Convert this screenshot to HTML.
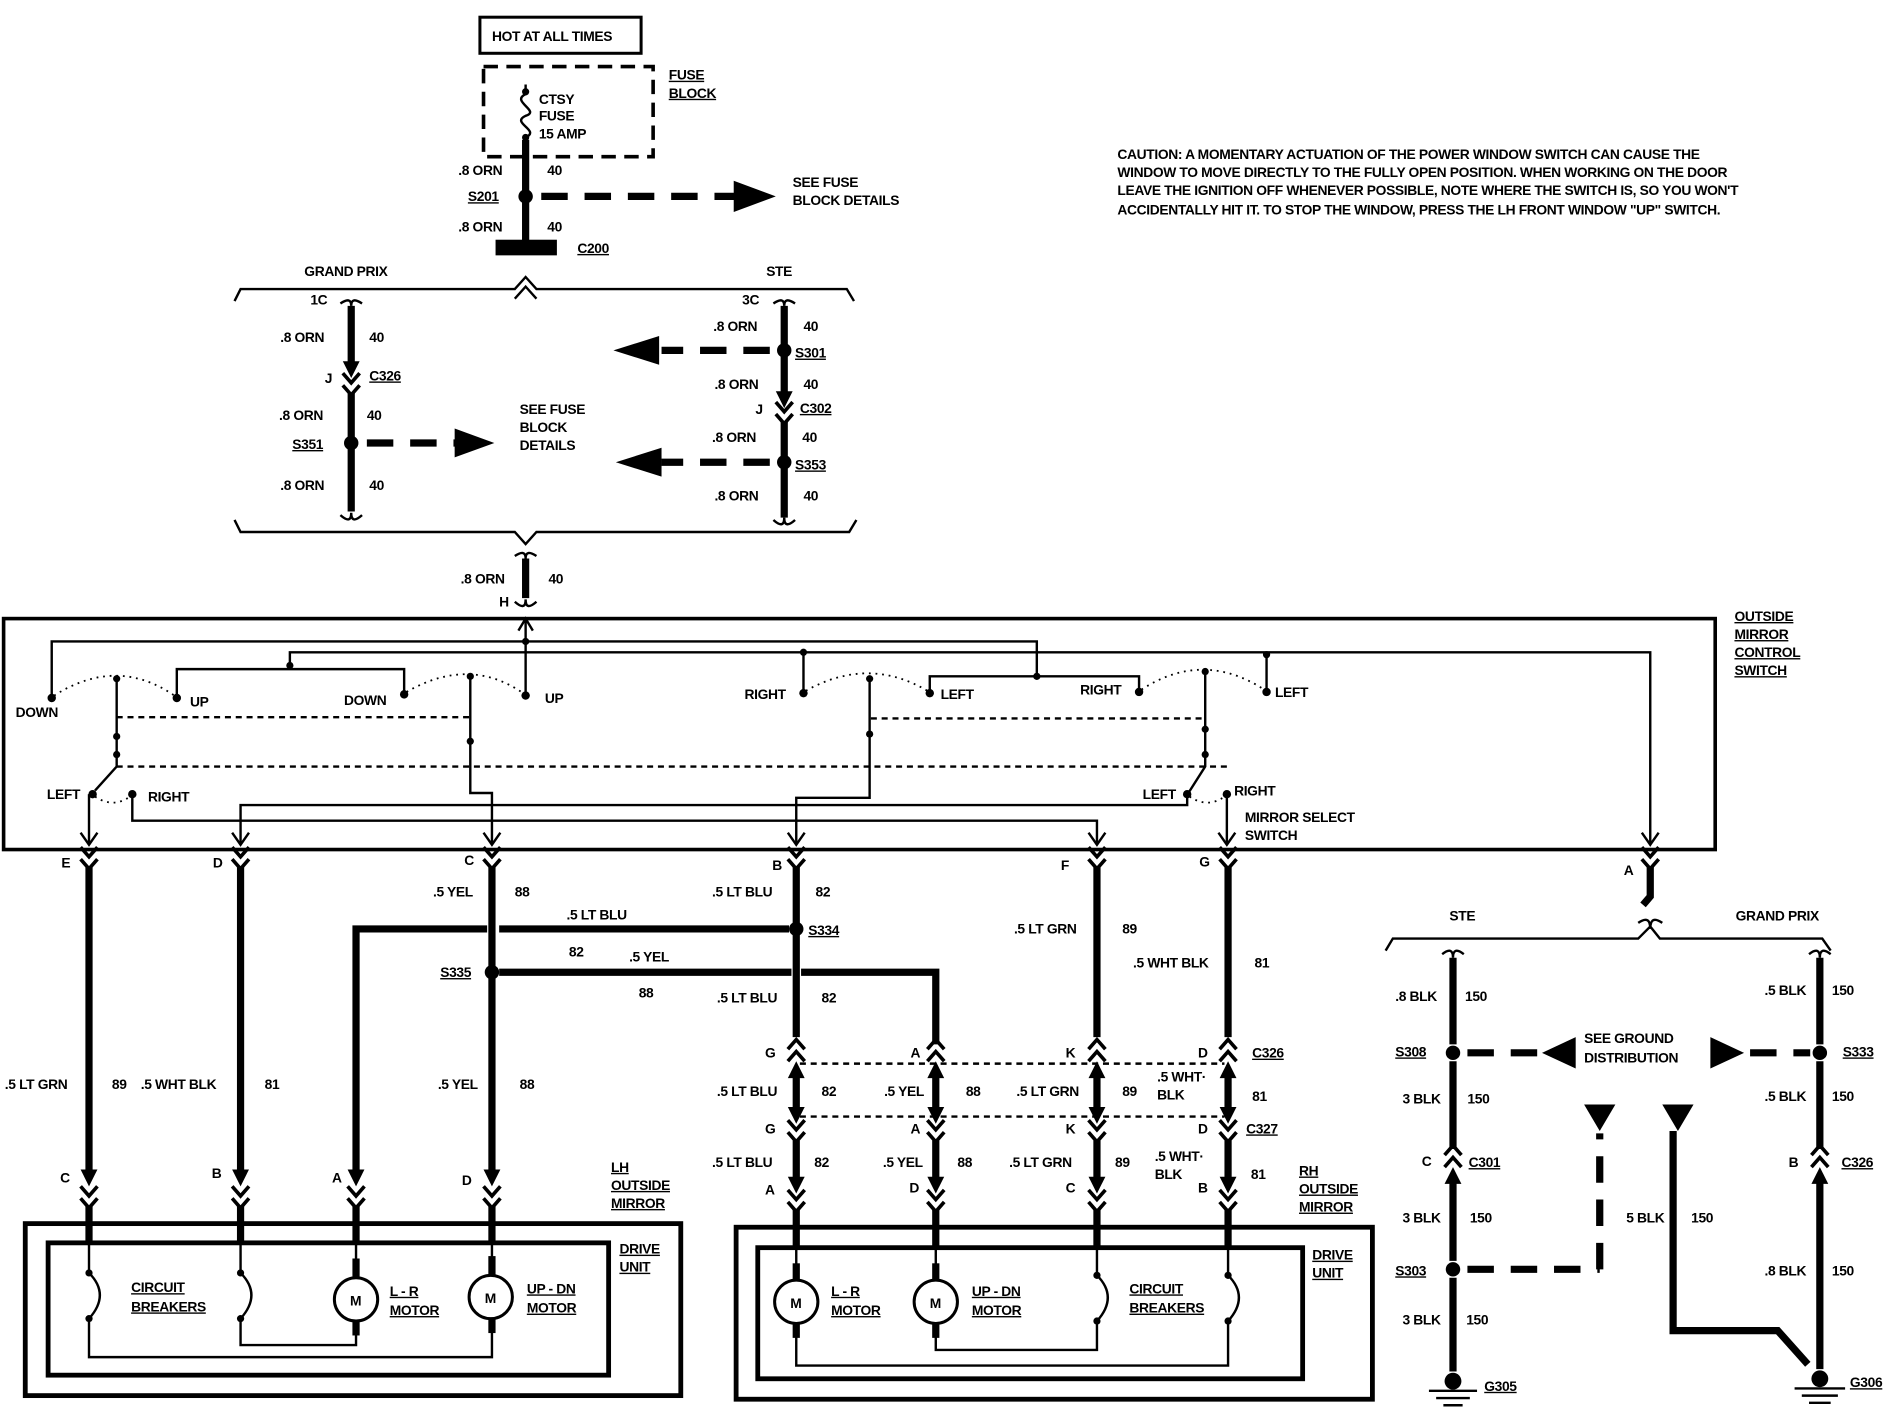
<!DOCTYPE html>
<html><head><meta charset="utf-8"><style>
html,body{margin:0;padding:0;background:#fff;}
svg{display:block;}
text{font-family:"Liberation Sans",sans-serif;font-weight:bold;font-size:11.5px;fill:#000;letter-spacing:-0.3px;}
.u{text-decoration:underline;}
.w{stroke:#000;stroke-width:6;fill:none;}
.t{stroke:#000;stroke-width:2;fill:none;}
.d{stroke:#000;stroke-width:6;fill:none;stroke-dasharray:22,14;}
.dd{stroke:#000;stroke-width:2;fill:none;stroke-dasharray:5,4;}
.dot{stroke:#000;stroke-width:1.5;fill:none;stroke-dasharray:1.5,4;}
</style></head><body>
<svg width="1886" height="1408" viewBox="0 0 1568 1170" xmlns="http://www.w3.org/2000/svg">
<defs>
<g id="chv"><path d="M-7,-8 L0,0 L7,-8 M-7,2 L0,10 L7,2" stroke="#000" stroke-width="3" fill="none"/></g>
<g id="chu"><path d="M-7,8 L0,0 L7,8 M-7,-2 L0,-10 L7,-2" stroke="#000" stroke-width="3" fill="none"/></g>
<g id="ad"><path d="M-7,-10 L0,4 L7,-10 Z" fill="#000"/></g>
<g id="au"><path d="M-7,10 L0,-4 L7,10 Z" fill="#000"/></g>
</defs>

<!-- top -->
<rect x="399" y="14" width="134" height="30" fill="none" stroke="#000" stroke-width="2.5"/>
<text x="409" y="34">HOT AT ALL TIMES</text>
<rect x="402" y="55" width="141" height="75" fill="none" stroke="#000" stroke-width="3" stroke-dasharray="12,7"/>
<text x="556" y="66" class="u">FUSE</text><text x="556" y="81" class="u">BLOCK</text>
<path d="M437,70 L437,78 C424,84 450,92 437,96 C424,102 450,108 437,114" class="t" stroke-width="2.5"/>
<circle cx="437" cy="76" r="3"/><circle cx="437" cy="114" r="3"/>
<text x="448" y="86">CTSY</text><text x="448" y="100">FUSE</text><text x="448" y="115">15 AMP</text>
<line x1="437" y1="116" x2="437" y2="202" class="w"/>
<text x="381" y="145">.8 ORN</text><text x="455" y="145">40</text>
<text x="389" y="167" class="u">S201</text>
<circle cx="437" cy="163" r="6"/>
<line x1="450" y1="163" x2="615" y2="163" class="d"/>
<path d="M610,150 L645,163 L610,176 Z"/>
<text x="659" y="155">SEE FUSE</text><text x="659" y="170">BLOCK DETAILS</text>
<text x="381" y="192">.8 ORN</text><text x="455" y="192">40</text>
<rect x="412" y="199" width="51" height="13"/>
<text x="480" y="210" class="u">C200</text>

<!-- upper bracket -->
<path d="M195,250 L200,240 L428,240 L437,230 L446,240 L704,240 L710,250" class="t" stroke-width="3"/>
<text x="253" y="229">GRAND PRIX</text><text x="637" y="229">STE</text>
<path d="M428,248 L437,238 L446,248" class="t" stroke-width="3"/>

<!-- left column -->
<path d="M283,252 Q292,246 292,254 Q292,246 301,252" class="t" stroke-width="3"/>
<line x1="292" y1="254" x2="292" y2="305" class="w"/>
<use href="#ad" x="292" y="310"/>
<use href="#chv" x="292" y="318"/>
<line x1="292" y1="326" x2="292" y2="425" class="w"/>
<path d="M283,428 Q292,436 292,426 Q292,436 301,428" class="t" stroke-width="3"/>
<text x="258" y="253">1C</text>
<text x="233" y="284">.8 ORN</text><text x="307" y="284">40</text>
<text x="270" y="318">J</text><text x="307" y="316" class="u">C326</text>
<text x="232" y="349">.8 ORN</text><text x="305" y="349">40</text>
<circle cx="292" cy="368" r="6"/>
<text x="243" y="373" class="u">S351</text>
<line x1="305" y1="368" x2="380" y2="368" class="d"/>
<path d="M378,356 L411,368 L378,380 Z"/>
<text x="432" y="344">SEE FUSE</text><text x="432" y="359">BLOCK</text><text x="432" y="374">DETAILS</text>
<text x="233" y="407">.8 ORN</text><text x="307" y="407">40</text>

<!-- right column -->
<path d="M643,252 Q652,246 652,254 Q652,246 661,252" class="t" stroke-width="3"/>
<line x1="652" y1="254" x2="652" y2="330" class="w"/>
<use href="#ad" x="652" y="335"/>
<use href="#chv" x="652" y="342"/>
<line x1="652" y1="350" x2="652" y2="430" class="w"/>
<path d="M643,432 Q652,440 652,430 Q652,440 661,432" class="t" stroke-width="3"/>
<text x="617" y="253">3C</text>
<text x="593" y="275">.8 ORN</text><text x="668" y="275">40</text>
<circle cx="652" cy="291" r="6"/>
<text x="661" y="297" class="u">S301</text>
<line x1="640" y1="291" x2="550" y2="291" class="d"/>
<path d="M548,279 L510,291 L548,303 Z"/>
<text x="594" y="323">.8 ORN</text><text x="668" y="323">40</text>
<text x="628" y="344">J</text><text x="665" y="343" class="u">C302</text>
<text x="592" y="367">.8 ORN</text><text x="667" y="367">40</text>
<circle cx="652" cy="384" r="6"/>
<text x="661" y="390" class="u">S353</text>
<line x1="640" y1="384" x2="550" y2="384" class="d"/>
<path d="M550,372 L512,384 L550,396 Z"/>
<text x="594" y="416">.8 ORN</text><text x="668" y="416">40</text>

<!-- lower bracket -->
<path d="M195,432 L200,442 L428,442 L437,452 L446,442 L706,442 L712,432" class="t" stroke-width="3"/>
<path d="M428,462 Q437,456 437,464 Q437,456 446,462" class="t" stroke-width="3"/>
<line x1="437" y1="464" x2="437" y2="497" class="w"/>
<path d="M428,500 Q437,508 437,498 Q437,508 446,500" class="t" stroke-width="3"/>
<text x="383" y="485">.8 ORN</text><text x="456" y="485">40</text>
<text x="415" y="504">H</text>

<!-- caution -->
<text x="929" y="132">CAUTION: A MOMENTARY ACTUATION OF THE POWER WINDOW SWITCH CAN CAUSE THE</text>
<text x="929" y="147">WINDOW TO MOVE DIRECTLY TO THE  FULLY OPEN POSITION. WHEN WORKING ON THE DOOR</text>
<text x="929" y="162">LEAVE THE IGNITION OFF WHENEVER POSSIBLE, NOTE WHERE THE SWITCH IS, SO YOU WON'T</text>
<text x="929" y="178">ACCIDENTALLY HIT IT. TO STOP THE WINDOW, PRESS THE LH FRONT WINDOW "UP" SWITCH.</text>

<!-- switch box -->
<rect x="3" y="514" width="1423" height="192" fill="none" stroke="#000" stroke-width="3"/>
<text x="1442" y="516" class="u">OUTSIDE</text><text x="1442" y="531" class="u">MIRROR</text><text x="1442" y="546" class="u">CONTROL</text><text x="1442" y="561" class="u">SWITCH</text>
<path d="M437,533 L437,516 M431,524 L437,514 L443,524" class="t"/>
<path d="M43,580 L43,533 L862,533 L862,562" class="t" stroke-width="2.5"/>
<circle cx="437" cy="533" r="3"/><circle cx="437" cy="578" r="3"/>
<line x1="437" y1="533" x2="437" y2="578" class="t"/>
<path d="M241,556 L241,542 L1372,542 L1372,702" class="t" stroke-width="2.5"/>
<circle cx="241" cy="553" r="3"/><circle cx="668" cy="542" r="3"/><circle cx="1053" cy="544" r="3"/><circle cx="862" cy="562" r="3"/>
<path d="M147,580 L147,556 L336,556 L336,577" class="t" stroke-width="2.5"/>
<line x1="668" y1="542" x2="668" y2="576" class="t"/>
<path d="M773,576 L773,562 L947,562 L947,575" class="t" stroke-width="2.5"/>
<line x1="1053" y1="544" x2="1053" y2="575" class="t"/>
<circle cx="43" cy="580" r="3.5"/><circle cx="147" cy="580" r="3.5"/><circle cx="336" cy="577" r="3.5"/><circle cx="437" cy="578" r="3.5"/>
<circle cx="668" cy="576" r="3.5"/><circle cx="773" cy="576" r="3.5"/><circle cx="947" cy="575" r="3.5"/><circle cx="1053" cy="575" r="3.5"/>
<path d="M45,578 Q97,545 145,578" class="dot"/><path d="M338,575 Q390,545 435,576" class="dot"/>
<path d="M670,574 Q722,545 771,574" class="dot"/><path d="M949,573 Q1000,540 1051,573" class="dot"/>
<text x="13" y="596">DOWN</text><text x="158" y="587">UP</text><text x="286" y="586">DOWN</text><text x="453" y="584">UP</text>
<text x="619" y="581">RIGHT</text><text x="782" y="581">LEFT</text><text x="898" y="577">RIGHT</text><text x="1060" y="579">LEFT</text>
<!-- poles -->
<path d="M97,562 L97,637 L79,657" class="t" stroke-width="2.5"/><circle cx="97" cy="564" r="3"/><circle cx="97" cy="612" r="3"/><circle cx="97" cy="627" r="3"/>
<path d="M391,560 L391,659 L409,659 L409,702" class="t" stroke-width="2.5"/><circle cx="391" cy="562" r="3"/><circle cx="391" cy="616" r="3"/>
<path d="M723,562 L723,663 L662,663 L662,702" class="t" stroke-width="2.5"/><circle cx="723" cy="564" r="3"/><circle cx="723" cy="610" r="3"/>
<path d="M1002,556 L1002,637 L988,659" class="t" stroke-width="2.5"/><circle cx="1002" cy="558" r="3"/><circle cx="1002" cy="606" r="3"/><circle cx="1002" cy="627" r="3"/>
<line x1="97" y1="596" x2="391" y2="596" class="dd"/>
<line x1="724" y1="597" x2="1002" y2="597" class="dd"/>
<line x1="97" y1="637" x2="1021" y2="637" class="dd"/>
<circle cx="77" cy="660" r="3.5"/><circle cx="110" cy="660" r="3.5"/><circle cx="987" cy="660" r="3.5"/><circle cx="1020" cy="660" r="3.5"/>
<path d="M79,662 Q94,672 108,662" class="dot"/><path d="M989,662 Q1004,672 1018,662" class="dot"/>
<text x="39" y="664">LEFT</text><text x="123" y="666">RIGHT</text><text x="950" y="664">LEFT</text><text x="1026" y="661">RIGHT</text>
<text x="1035" y="683">MIRROR SELECT</text><text x="1035" y="698">SWITCH</text>
<path d="M74,660 L74,702" class="t"/>
<path d="M110,660 L110,682 L912,682 L912,702" class="t"/>
<path d="M987,660 L987,669 L200,669 L200,702" class="t"/>
<path d="M1020,662 L1020,702" class="t"/>
<g class="t">
<path d="M67,692 L74,702 L81,692"/><path d="M193,692 L200,702 L207,692"/><path d="M402,692 L409,702 L416,692"/><path d="M655,692 L662,702 L669,692"/><path d="M905,692 L912,702 L919,692"/><path d="M1013,692 L1020,702 L1027,692"/><path d="M1365,692 L1372,702 L1379,692"/>
</g>

<!-- lower wires -->
<g>
<text x="51" y="721">E</text><text x="177" y="721">D</text><text x="386" y="719">C</text><text x="642" y="723">B</text><text x="882" y="723">F</text><text x="997" y="720">G</text><text x="1350" y="727">A</text>
</g>
<use href="#chv" x="74" y="712"/><use href="#chv" x="200" y="712"/><use href="#chv" x="409" y="712"/><use href="#chv" x="662" y="712"/><use href="#chv" x="912" y="712"/><use href="#chv" x="1021" y="712"/><use href="#chv" x="1372" y="712"/>
<line x1="74" y1="720" x2="74" y2="975" class="w"/><use href="#ad" x="74" y="982"/>
<line x1="200" y1="720" x2="200" y2="975" class="w"/><use href="#ad" x="200" y="982"/>
<line x1="409" y1="720" x2="409" y2="975" class="w"/><use href="#ad" x="409" y="982"/>
<path d="M296,975 L296,772 L405,772 M415,772 L656,772" class="w" stroke-width="7"/><use href="#ad" x="296" y="982"/>
<path d="M415,808 L658,808 M666,808 L778,808 L778,868" class="w" stroke-width="7"/>
<circle cx="409" cy="808" r="6"/><circle cx="662" cy="772" r="6"/>
<line x1="662" y1="720" x2="662" y2="862" class="w"/>
<line x1="912" y1="720" x2="912" y2="862" class="w"/>
<line x1="1021" y1="720" x2="1021" y2="862" class="w"/>
<path d="M1372,720 L1372,745 L1366,752" class="w"/>
<text x="360" y="745">.5 YEL</text><text x="428" y="745">88</text>
<text x="592" y="745">.5 LT BLU</text><text x="678" y="745">82</text>
<text x="471" y="764">.5 LT BLU</text>
<text x="672" y="777" class="u">S334</text>
<text x="473" y="795">82</text><text x="523" y="799">.5 YEL</text>
<text x="366" y="812" class="u">S335</text>
<text x="531" y="829">88</text>
<text x="596" y="833">.5 LT BLU</text><text x="683" y="833">82</text>
<text x="843" y="776">.5 LT GRN</text><text x="933" y="776">89</text>
<text x="942" y="804">.5 WHT BLK</text><text x="1043" y="804">81</text>
<text x="4" y="905">.5 LT GRN</text><text x="93" y="905">89</text><text x="117" y="905">.5 WHT BLK</text><text x="220" y="905">81</text>
<text x="364" y="905">.5 YEL</text><text x="432" y="905">88</text>
<text x="50" y="983">C</text><text x="176" y="979">B</text><text x="276" y="983">A</text><text x="384" y="985">D</text>
<text x="508" y="974" class="u">LH</text><text x="508" y="989" class="u">OUTSIDE</text><text x="508" y="1004" class="u">MIRROR</text>
<use href="#chv" x="74" y="994"/><use href="#chv" x="200" y="994"/><use href="#chv" x="296" y="994"/><use href="#chv" x="409" y="994"/>
<g class="w"><line x1="74" y1="1002" x2="74" y2="1034"/><line x1="200" y1="1002" x2="200" y2="1034"/><line x1="296" y1="1002" x2="296" y2="1034"/><line x1="409" y1="1002" x2="409" y2="1034"/></g>

<!-- right group connectors -->
<g>
<use href="#chu" x="662" y="874"/><use href="#chu" x="778" y="874"/><use href="#chu" x="912" y="874"/><use href="#chu" x="1021" y="874"/>
<use href="#au" x="662" y="886"/><use href="#au" x="778" y="886"/><use href="#au" x="912" y="886"/><use href="#au" x="1021" y="886"/>
<line x1="662" y1="890" x2="662" y2="925" class="w"/><line x1="778" y1="890" x2="778" y2="925" class="w"/><line x1="912" y1="890" x2="912" y2="925" class="w"/><line x1="1021" y1="890" x2="1021" y2="925" class="w"/>
<use href="#ad" x="662" y="930"/><use href="#ad" x="778" y="930"/><use href="#ad" x="912" y="930"/><use href="#ad" x="1021" y="930"/>
<use href="#chv" x="662" y="939"/><use href="#chv" x="778" y="939"/><use href="#chv" x="912" y="939"/><use href="#chv" x="1021" y="939"/>
<line x1="662" y1="948" x2="662" y2="983" class="w"/><line x1="778" y1="948" x2="778" y2="983" class="w"/><line x1="912" y1="948" x2="912" y2="983" class="w"/><line x1="1021" y1="948" x2="1021" y2="983" class="w"/>
<use href="#ad" x="662" y="988"/><use href="#ad" x="778" y="988"/><use href="#ad" x="912" y="988"/><use href="#ad" x="1021" y="988"/>
<use href="#chv" x="662" y="997"/><use href="#chv" x="778" y="997"/><use href="#chv" x="912" y="997"/><use href="#chv" x="1021" y="997"/>
<g class="w"><line x1="662" y1="1005" x2="662" y2="1038"/><line x1="778" y1="1005" x2="778" y2="1038"/><line x1="912" y1="1005" x2="912" y2="1038"/><line x1="1021" y1="1005" x2="1021" y2="1038"/></g>
</g>
<line x1="665" y1="884" x2="1018" y2="884" class="dd"/>
<line x1="665" y1="928" x2="1018" y2="928" class="dd"/>
<text x="636" y="879">G</text><text x="757" y="879">A</text><text x="886" y="879">K</text><text x="996" y="879">D</text><text x="1041" y="879" class="u">C326</text>
<text x="596" y="911">.5 LT BLU</text><text x="683" y="911">82</text><text x="735" y="911">.5 YEL</text><text x="803" y="911">88</text>
<text x="845" y="911">.5 LT GRN</text><text x="933" y="911">89</text><text x="962" y="899">.5 WHT·</text><text x="962" y="914">BLK</text><text x="1041" y="915">81</text>
<text x="636" y="942">G</text><text x="757" y="942">A</text><text x="886" y="942">K</text><text x="996" y="942">D</text><text x="1036" y="942" class="u">C327</text>
<text x="592" y="970">.5 LT BLU</text><text x="677" y="970">82</text><text x="734" y="970">.5 YEL</text><text x="796" y="970">88</text>
<text x="839" y="970">.5 LT GRN</text><text x="927" y="970">89</text><text x="960" y="965">.5 WHT·</text><text x="960" y="980">BLK</text><text x="1040" y="980">81</text>
<text x="636" y="993">A</text><text x="756" y="991">D</text><text x="886" y="991">C</text><text x="996" y="991">B</text>
<text x="1080" y="977" class="u">RH</text><text x="1080" y="992" class="u">OUTSIDE</text><text x="1080" y="1007" class="u">MIRROR</text>

<!-- LH drive unit -->
<rect x="21" y="1017" width="545" height="143" fill="none" stroke="#000" stroke-width="4"/>
<rect x="40" y="1033" width="466" height="110" fill="none" stroke="#000" stroke-width="4"/>
<text x="515" y="1042" class="u">DRIVE</text><text x="515" y="1057" class="u">UNIT</text>
<path d="M74,1034 L74,1058 Q92,1076 74,1096 L74,1128 L409,1128 L409,1098" class="t"/>
<path d="M200,1034 L200,1058 Q218,1076 200,1096 L200,1118 L296,1118 L296,1098" class="t"/>
<circle cx="74" cy="1058" r="3"/><circle cx="74" cy="1096" r="3"/><circle cx="200" cy="1058" r="3"/><circle cx="200" cy="1096" r="3"/>
<line x1="296" y1="1034" x2="296" y2="1062" class="t"/><line x1="409" y1="1034" x2="409" y2="1060" class="t"/>
<rect x="293" y="1046" width="6" height="16"/><rect x="293" y="1096" width="6" height="14"/>
<rect x="406" y="1044" width="6" height="16"/><rect x="406" y="1094" width="6" height="14"/>
<circle cx="296" cy="1080" r="18" fill="#fff" stroke="#000" stroke-width="2.5"/>
<circle cx="408" cy="1078" r="18" fill="#fff" stroke="#000" stroke-width="2.5"/>
<text x="291" y="1085">M</text><text x="403" y="1083">M</text>
<text x="109" y="1074" class="u">CIRCUIT</text><text x="109" y="1090" class="u">BREAKERS</text>
<text x="324" y="1077" class="u">L - R</text><text x="324" y="1093" class="u">MOTOR</text>
<text x="438" y="1075" class="u">UP - DN</text><text x="438" y="1091" class="u">MOTOR</text>

<!-- RH drive unit -->
<rect x="612" y="1020" width="529" height="143" fill="none" stroke="#000" stroke-width="4"/>
<rect x="630" y="1037" width="453" height="109" fill="none" stroke="#000" stroke-width="4"/>
<text x="1091" y="1047" class="u">DRIVE</text><text x="1091" y="1062" class="u">UNIT</text>
<path d="M912,1038 L912,1060 Q930,1078 912,1098 L912,1122 L778,1122 L778,1100" class="t"/>
<path d="M1021,1038 L1021,1060 Q1039,1078 1021,1098 L1021,1135 L662,1135 L662,1100" class="t"/>
<circle cx="912" cy="1060" r="3"/><circle cx="912" cy="1098" r="3"/><circle cx="1021" cy="1060" r="3"/><circle cx="1021" cy="1098" r="3"/>
<line x1="662" y1="1038" x2="662" y2="1064" class="t"/><line x1="778" y1="1038" x2="778" y2="1064" class="t"/>
<rect x="659" y="1050" width="6" height="14"/><rect x="659" y="1098" width="6" height="14"/>
<rect x="775" y="1050" width="6" height="14"/><rect x="775" y="1098" width="6" height="14"/>
<circle cx="662" cy="1082" r="18" fill="#fff" stroke="#000" stroke-width="2.5"/>
<circle cx="778" cy="1082" r="18" fill="#fff" stroke="#000" stroke-width="2.5"/>
<text x="657" y="1087">M</text><text x="773" y="1087">M</text>
<text x="691" y="1077" class="u">L - R</text><text x="691" y="1093" class="u">MOTOR</text>
<text x="808" y="1077" class="u">UP - DN</text><text x="808" y="1093" class="u">MOTOR</text>
<text x="939" y="1075" class="u">CIRCUIT</text><text x="939" y="1091" class="u">BREAKERS</text>

<!-- ground section -->
<path d="M1152,790 L1158,780 L1362,780 L1372,770 L1380,780 L1515,780 L1522,790" class="t" stroke-width="3"/>
<path d="M1362,767 Q1372,760 1372,772 Q1372,760 1382,767" class="t" stroke-width="3"/>
<text x="1205" y="765">STE</text><text x="1443" y="765">GRAND PRIX</text>
<path d="M1199,793 Q1208,786 1208,796 Q1208,786 1217,793" class="t" stroke-width="3"/>
<path d="M1504,793 Q1513,786 1513,796 Q1513,786 1522,793" class="t" stroke-width="3"/>
<line x1="1208" y1="796" x2="1208" y2="868" class="w"/>
<line x1="1208" y1="882" x2="1208" y2="955" class="w"/>
<use href="#chu" x="1208" y="962"/><use href="#au" x="1208" y="974"/>
<line x1="1208" y1="978" x2="1208" y2="1048" class="w"/>
<line x1="1208" y1="1062" x2="1208" y2="1140" class="w"/>
<circle cx="1208" cy="875" r="6"/><circle cx="1208" cy="1055" r="6"/>
<line x1="1220" y1="875" x2="1285" y2="875" class="d"/>
<path d="M1282,875 L1310,862 L1310,888 Z"/>
<line x1="1220" y1="1055" x2="1330" y2="1055" class="d"/>
<line x1="1330" y1="1055" x2="1330" y2="942" class="d"/>
<path d="M1317,918 L1343,918 L1330,940 Z"/>
<text x="1317" y="867">SEE GROUND</text><text x="1317" y="883">DISTRIBUTION</text>
<path d="M1422,862 L1422,888 L1450,875 Z"/>
<line x1="1455" y1="875" x2="1505" y2="875" class="d"/>
<line x1="1513" y1="796" x2="1513" y2="868" class="w"/>
<circle cx="1513" cy="875" r="6"/>
<line x1="1513" y1="882" x2="1513" y2="955" class="w"/>
<use href="#chu" x="1513" y="962"/><use href="#au" x="1513" y="974"/>
<line x1="1513" y1="978" x2="1513" y2="1138" class="w"/>
<path d="M1382,918 L1408,918 L1395,940 Z"/>
<path d="M1391,940 L1391,1106 L1478,1106 L1503,1134" class="w"/>
<text x="1160" y="832">.8 BLK</text><text x="1218" y="832">150</text>
<text x="1160" y="878" class="u">S308</text>
<text x="1166" y="917">3 BLK</text><text x="1220" y="917">150</text>
<text x="1182" y="969">C</text><text x="1221" y="970" class="u">C301</text>
<text x="1166" y="1016">3 BLK</text><text x="1222" y="1016">150</text>
<text x="1160" y="1060" class="u">S303</text>
<text x="1166" y="1101">3 BLK</text><text x="1219" y="1101">150</text>
<text x="1352" y="1016">5 BLK</text><text x="1406" y="1016">150</text>
<text x="1467" y="827">.5 BLK</text><text x="1523" y="827">150</text>
<text x="1532" y="878" class="u">S333</text>
<text x="1467" y="915">.5 BLK</text><text x="1523" y="915">150</text>
<text x="1487" y="970">B</text><text x="1531" y="970" class="u">C326</text>
<text x="1467" y="1060">.8 BLK</text><text x="1523" y="1060">150</text>
<!-- grounds -->
<circle cx="1208" cy="1148" r="7"/>
<path d="M1188,1156 L1228,1156 M1194,1162 L1222,1162 M1200,1168 L1216,1168" class="t" stroke-width="2.5"/>
<text x="1234" y="1156" class="u">G305</text>
<circle cx="1513" cy="1146" r="7"/>
<path d="M1492,1154 L1534,1154 M1498,1160 L1528,1160 M1504,1166 L1522,1166" class="t" stroke-width="2.5"/>
<text x="1538" y="1153" class="u">G306</text>
</svg>
</body></html>
